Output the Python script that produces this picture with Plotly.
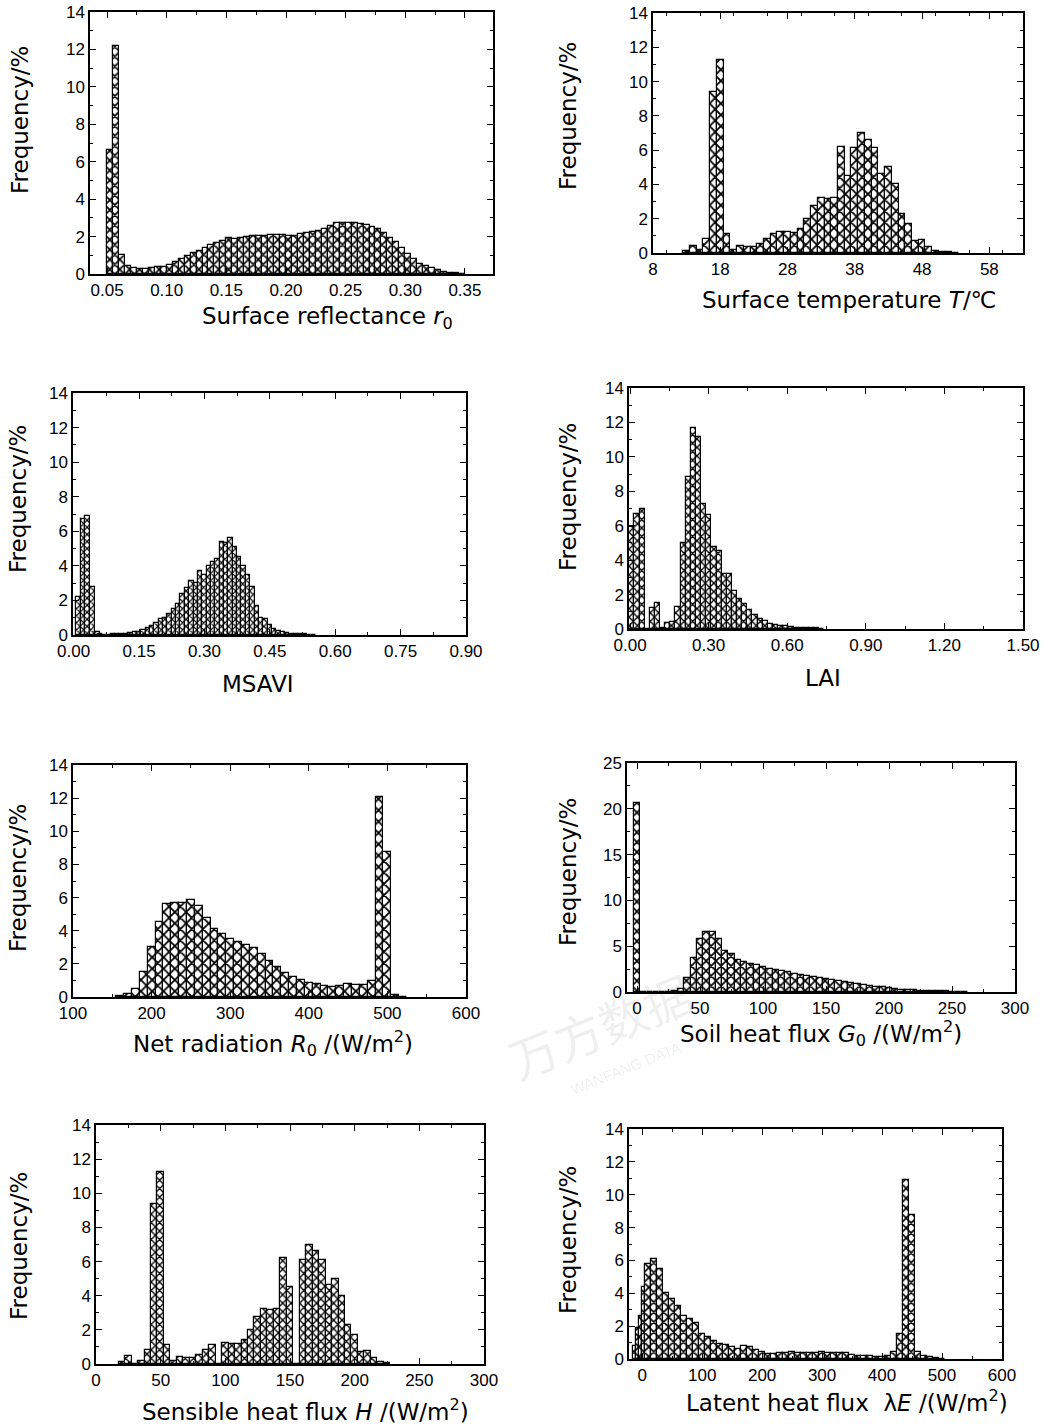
import plotly.graph_objects as go

W, H = 1057, 1426
FONT = "Liberation Sans, Arial, Helvetica, sans-serif"
TFONT = "DejaVu Sans, Verdana, sans-serif"

# ---------------- data (frequency in %) ----------------
# Panel 1: surface reflectance r0, bins of 0.005 starting at 0.05
r0_start, r0_width = 0.05, 0.005
r0_freq = [6.6, 12.2, 1.0, 0.45, 0.3, 0.25, 0.25, 0.3, 0.35, 0.4,
           0.5, 0.65, 0.8, 0.95, 1.1, 1.25, 1.4, 1.55, 1.65, 1.75,
           1.9, 1.85, 1.95, 2.0, 2.05, 2.05, 2.05, 2.07, 2.07, 2.07,
           2.05, 2.05, 2.15, 2.2, 2.25, 2.3, 2.4, 2.55, 2.75, 2.7,
           2.7, 2.7, 2.65, 2.6, 2.5, 2.4, 2.2, 1.95, 1.7, 1.4,
           1.05, 0.8, 0.55, 0.45, 0.3, 0.2, 0.1, 0.05, 0.03, 0.02]

# Panel 2: surface temperature T (deg C), 1-degree bins centred on 13..53
t_first, t_width = 13, 1
t_freq = [0.1, 0.4, 0.2, 0.8, 9.4, 11.25, 1.1, 0.2, 0.4, 0.35,
          0.35, 0.5, 0.8, 1.1, 1.25, 1.2, 1.15, 1.4, 2.0, 2.75,
          3.2, 3.15, 3.2, 6.2, 4.5, 6.1, 7.0, 6.6, 6.1, 4.6,
          5.0, 4.0, 2.3, 1.7, 0.7, 0.75, 0.35, 0.1, 0.05, 0.03, 0.02]

# Panel 3: MSAVI
ms_start, ms_width = 0.005, 0.011
ms_left_freq = [2.2, 6.7, 6.9, 2.8, 0.2]
ms_start2, ms_width2 = 0.055, 0.01
ms_freq = [0.05, 0.02, 0.02, 0.03, 0.04, 0.05, 0.08, 0.1, 0.15, 0.2,
           0.3, 0.4, 0.5, 0.7, 0.9, 1.0, 1.2, 1.5, 1.8, 2.4,
           2.7, 3.1, 3.0, 3.7, 3.5, 4.0, 4.2, 4.4, 5.4, 5.3,
           5.6, 5.1, 4.5, 4.0, 3.5, 2.8, 1.7, 1.0, 0.9, 0.55,
           0.35, 0.25, 0.15, 0.1, 0.08, 0.05, 0.04, 0.03, 0.02, 0.01]

# Panel 4: LAI
lai_start, lai_width = -0.003, 0.0196
lai_freq = [5.9, 6.7, 6.95, 0.0, 1.2, 1.5, 0.05, 0.35, 0.4, 1.3,
            5.0, 8.85, 11.7, 11.15, 7.25, 6.65, 4.75, 4.55, 3.2, 3.2,
            2.2, 1.75, 1.45, 1.1, 0.8, 0.6, 0.45, 0.3, 0.25, 0.2,
            0.15, 0.1, 0.08, 0.05, 0.05, 0.04, 0.03, 0.02]

# Panel 5: net radiation R0 (W/m2), bins of 10 starting at 155
rn_start, rn_width = 155, 10
rn_freq = [0.05, 0.16, 0.5, 1.5, 3.0, 4.5, 5.6, 5.7, 5.65, 5.85,
           5.5, 4.75, 4.13, 3.83, 3.53, 3.33, 3.13, 2.96, 2.62, 2.18,
           1.81, 1.47, 1.21, 1.0, 0.87, 0.77, 0.67, 0.6, 0.67, 0.77,
           0.7, 0.7, 0.95, 12.05, 8.75, 0.1, 0.02]

# Panel 6: soil heat flux G0 (W/m2), bins of 5 starting at -2.5
g_start, g_width = -2.5, 5
g_freq = [20.6, 0.05, 0.05, 0.05, 0.05, 0.05, 0.1, 0.3, 1.5, 3.75,
          5.8, 6.6, 6.6, 5.8, 4.5, 4.1, 3.5, 3.3, 3.05, 2.9,
          2.75, 2.55, 2.4, 2.25, 2.15, 2.0, 1.9, 1.75, 1.6, 1.5,
          1.4, 1.3, 1.2, 1.1, 1.0, 0.9, 0.8, 0.7, 0.6, 0.5,
          0.4, 0.32, 0.27, 0.22, 0.18, 0.15, 0.12, 0.1, 0.08, 0.06,
          0.05, 0.04, 0.03]

# Panel 7: sensible heat flux H (W/m2), bins of 5 centred on 20..225
h_first, h_width = 20, 5
h_freq = [0.1, 0.45, 0.02, 0.2, 0.8, 9.4, 11.25, 1.1, 0.2, 0.4,
          0.35, 0.35, 0.5, 0.8, 1.1, 0.0, 1.25, 1.2, 1.15, 1.4,
          2.0, 2.75, 3.2, 3.15, 3.2, 6.2, 4.5, 0.0, 6.1, 7.0,
          6.6, 6.1, 4.6, 5.0, 4.0, 2.3, 1.7, 0.7, 0.75, 0.35,
          0.1, 0.05]

# Panel 8: latent heat flux lambdaE (W/m2)
le_start_narrow, le_width_narrow = -15, 5
le_freq_narrow = [0.8, 1.9, 2.6, 4.4]
le_start, le_width = 5, 10
le_freq = [5.8, 6.1, 5.5, 4.0, 3.65, 3.2, 2.6, 2.45, 2.2, 1.5,
           1.35, 1.1, 0.92, 0.87, 0.75, 0.6, 0.8, 0.75, 0.55, 0.4,
           0.3, 0.3, 0.35, 0.35, 0.4, 0.38, 0.35, 0.35, 0.38, 0.4,
           0.38, 0.35, 0.38, 0.35, 0.25, 0.2, 0.2, 0.2, 0.15, 0.15,
           0.2, 0.4, 1.5, 10.9, 8.75, 0.45, 0.2, 0.1, 0.05, 0.03]

x_titles = [
    "Surface reflectance <i>r</i><sub>0</sub>",
    "Surface temperature <i>T</i>/℃",
    "MSAVI",
    "LAI",
    "Net radiation <i>R</i><sub>0</sub> /(W/m<sup>2</sup>)",
    "Soil heat flux <i>G</i><sub>0</sub> /(W/m<sup>2</sup>)",
    "Sensible heat flux <i>H</i> /(W/m<sup>2</sup>)",
    "Latent heat flux  λ<i>E</i> /(W/m<sup>2</sup>)",
]
y_title = "Frequency/%"
watermark_cn = "万方数据"
watermark_en = "WANFANG DATA"

# ---------------- layout geometry (pixels) ----------------
boxes = [
    (90, 493, 12, 274),
    (653, 1023, 13, 253),
    (73, 466, 393, 635),
    (629, 1023, 388, 629),
    (73, 466, 765, 997),
    (627, 1015, 763, 992),
    (96, 484, 1125, 1364),
    (629, 1002, 1129, 1359),
]
x_axes_cfg = [
    dict(range=[0.0357, 0.3735], tick0=0.05, dtick=0.05, minor=0.025, fmt=".2f"),
    dict(range=[8, 63], tick0=8, dtick=10, minor=5, fmt="d"),
    dict(range=[-0.0015, 0.9], tick0=0, dtick=0.15, minor=0.075, fmt=".2f"),
    dict(range=[-0.004, 1.5], tick0=0, dtick=0.3, minor=0.15, fmt=".2f"),
    dict(range=[100, 600], tick0=100, dtick=100, minor=50, fmt="d"),
    dict(range=[-8, 300], tick0=0, dtick=50, minor=25, fmt="d"),
    dict(range=[0, 300], tick0=0, dtick=50, minor=25, fmt="d"),
    dict(range=[-22, 600], tick0=0, dtick=100, minor=50, fmt="d"),
]
y_axes_cfg = [dict(range=[0, 14], dtick=2, minor=1)] * 5 + \
    [dict(range=[0, 25], dtick=5, minor=2.5)] + [dict(range=[0, 14], dtick=2, minor=1)] * 2

xt_pos = [(327, 318), (849, 300), (258, 684), (823, 678),
          (273, 1043), (821, 1033), (305, 1410), (847, 1401)]
yt_pos = [(20, 120), (568, 116), (18, 499), (568, 497),
          (18, 878), (568, 872), (19, 1246), (568, 1240)]

patterns = [("x", 7), ("x", 8), ("x", 5), ("x", 6), ("x", 8), ("x", 7), ("x", 6), ("x", 7)]


def centres(start, width, n):
    return [start + width * (i + 0.5) for i in range(n)]


series = [
    [(centres(r0_start, r0_width, len(r0_freq)), r0_freq, r0_width)],
    [([t_first + t_width * i for i in range(len(t_freq))], t_freq, t_width)],
    [(centres(ms_start, ms_width, len(ms_left_freq)), ms_left_freq, ms_width),
     (centres(ms_start2, ms_width2, len(ms_freq)), ms_freq, ms_width2)],
    [(centres(lai_start, lai_width, len(lai_freq)), lai_freq, lai_width)],
    [(centres(rn_start, rn_width, len(rn_freq)), rn_freq, rn_width)],
    [(centres(g_start, g_width, len(g_freq)), g_freq, g_width)],
    [([h_first + h_width * i for i in range(len(h_freq))], h_freq, h_width)],
    [(centres(le_start_narrow, le_width_narrow, len(le_freq_narrow)), le_freq_narrow, le_width_narrow),
     (centres(le_start, le_width, len(le_freq)), le_freq, le_width)],
]

fig = go.Figure()
layout = dict(
    template="none",
    width=W, height=H, margin=dict(l=0, r=0, t=0, b=0, autoexpand=False),
    paper_bgcolor="white", plot_bgcolor="white",
    showlegend=False, barmode="overlay", bargap=0,
    font=dict(family=FONT, size=17, color="black"),
    annotations=[],
)

for k in range(8):
    l, r, t, b = boxes[k]
    xa = "xaxis" if k == 0 else f"xaxis{k+1}"
    ya = "yaxis" if k == 0 else f"yaxis{k+1}"
    xref = "x" if k == 0 else f"x{k+1}"
    yref = "y" if k == 0 else f"y{k+1}"
    shape, psize = patterns[k]
    for xs, ys, w in series[k]:
        fig.add_trace(go.Bar(
            x=xs, y=ys, width=w, xaxis=xref, yaxis=yref,
            marker=dict(color="white",
                        line=dict(color="black", width=1.2),
                        pattern=dict(shape=shape, size=psize, solidity=0.4,
                                     fgcolor="black", bgcolor="white")),
            hoverinfo="x+y",
        ))
    xc = x_axes_cfg[k]
    yc = y_axes_cfg[k]
    common = dict(showline=True, linecolor="black", linewidth=1.5, mirror="allticks",
                  ticks="inside", ticklen=6, tickwidth=1.2, tickcolor="black",
                  showgrid=False, zeroline=False, automargin=False,
                  tickfont=dict(family=FONT, size=17, color="black"))
    layout[xa] = dict(domain=[l / W, r / W], anchor=yref, range=xc["range"],
                      tick0=xc["tick0"], dtick=xc["dtick"], tickformat=xc["fmt"],
                      minor=dict(dtick=xc["minor"], ticks="inside", ticklen=3,
                                 tickcolor="black", tickwidth=1),
                      **common)
    layout[ya] = dict(domain=[1 - b / H, 1 - t / H], anchor=xref, range=yc["range"],
                      tick0=0, dtick=yc["dtick"],
                      minor=dict(dtick=yc["minor"], ticks="inside", ticklen=3,
                                 tickcolor="black", tickwidth=1),
                      **common)
    cx, cy = xt_pos[k]
    layout["annotations"].append(dict(
        text=x_titles[k], x=cx / W, y=1 - cy / H, xref="paper", yref="paper",
        xanchor="center", yanchor="middle", showarrow=False,
        font=dict(family=TFONT, size=23, color="black")))
    cx, cy = yt_pos[k]
    layout["annotations"].append(dict(
        text=y_title, x=cx / W, y=1 - cy / H, xref="paper", yref="paper",
        xanchor="center", yanchor="middle", showarrow=False, textangle=-90,
        font=dict(family=TFONT, size=23, color="black")))

# faint scan watermark of the source document
layout["annotations"].append(dict(
    text=watermark_cn, x=600 / W, y=1 - 1025 / H, xref="paper", yref="paper",
    xanchor="center", yanchor="middle", showarrow=False, textangle=-22,
    font=dict(family="Noto Sans CJK SC", size=48, color="rgba(0,0,0,0.08)")))
layout["annotations"].append(dict(
    text=watermark_en, x=625 / W, y=1 - 1068 / H, xref="paper", yref="paper",
    xanchor="center", yanchor="middle", showarrow=False, textangle=-22,
    font=dict(family=FONT, size=15, color="rgba(0,0,0,0.08)")))

fig.update_layout(**layout)
fig.write_html(
    "out.html", config={"displayModeBar": False},
    post_script="document.body.style.margin='0';document.body.style.padding='0';"
                "document.documentElement.style.overflow='hidden';",
)
